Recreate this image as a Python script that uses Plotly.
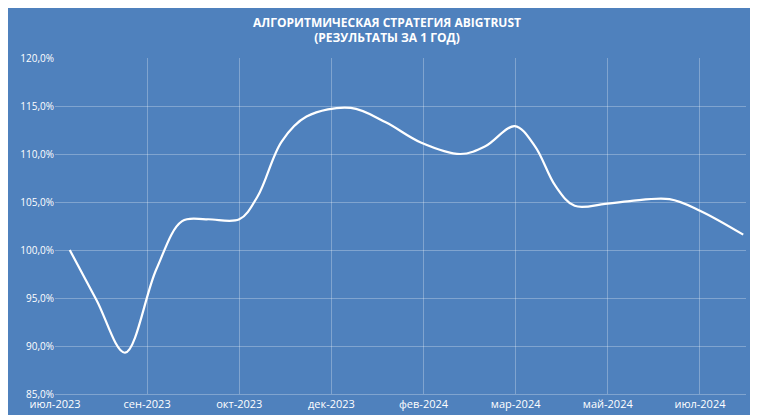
"""Algorithmic strategy equity curve, one year."""
import plotly.graph_objects as go

# month positions on the axis (0 = июл-2023, 1 step per tick label)
x_pos = [0.16, 0.45, 0.76, 1.10, 1.38, 1.65, 2.00, 2.20, 2.46, 2.73, 3.21,
         3.59, 3.97, 4.40, 4.67, 4.99, 5.21, 5.43, 5.64, 5.97, 6.24, 6.67,
         7.00, 7.47]
equity = [100.0, 94.8, 89.3, 98.0, 103.0, 103.2, 103.2, 105.6, 111.3, 113.9, 114.8,
          113.3, 111.2, 110.0, 110.8, 112.9, 110.8, 106.7, 104.6, 104.8, 105.1, 105.3,
          104.1, 101.6]
tick_vals = [0, 1, 2, 3, 4, 5, 6, 7]
tick_text = ["июл-2023", "сен-2023", "окт-2023", "дек-2023",
             "фев-2024", "мар-2024", "май-2024", "июл-2024"]

BG = "#4F81BD"
GRID = "rgba(255,255,255,0.28)"

fig = go.Figure()
fig.add_trace(go.Scatter(
    x=x_pos, y=equity, mode="lines",
    line=dict(color="white", width=2.2, shape="spline", smoothing=1.0),
    showlegend=False, hoverinfo="skip"
))

fig.update_layout(
    width=758, height=415,
    paper_bgcolor=BG, plot_bgcolor=BG,
    margin=dict(l=47, r=20, t=50, b=24),
    font=dict(family="Open Sans", color="white", size=11),
    title=dict(
        text="<b>АЛГОРИТМИЧЕСКАЯ СТРАТЕГИЯ ABIGTRUST<br>(РЕЗУЛЬТАТЫ ЗА 1 ГОД)</b>",
        x=0.5, xanchor="center", y=0.955, yanchor="top",
        font=dict(size=12, color="white"),
    ),
    separators=", ",
)
fig.update_xaxes(
    range=[0, 7.5], tickvals=tick_vals, ticktext=tick_text,
    showgrid=True, gridcolor=GRID, zeroline=False,
    showline=True, linecolor=GRID, ticks="", tickfont=dict(color="white", size=11),
)
fig.update_yaxes(
    range=[85, 120], dtick=5, tickformat=".1f", ticksuffix="%",
    showgrid=True, gridcolor=GRID, zeroline=False, ticks="",
    tickfont=dict(color="white", size=10),
)

fig.write_html("out.html")
